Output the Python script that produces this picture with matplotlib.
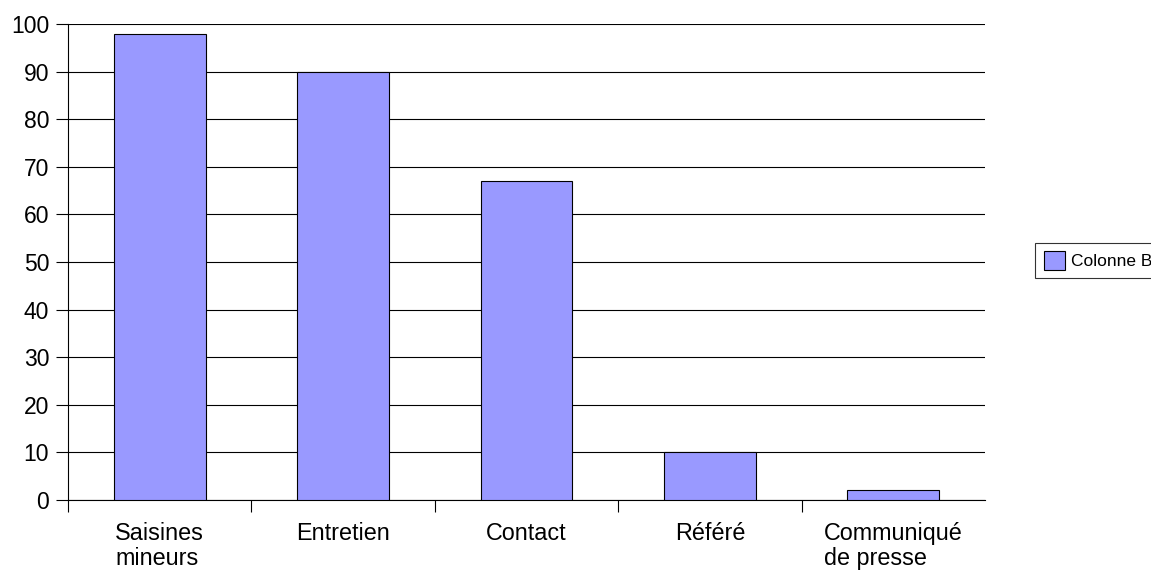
import matplotlib
matplotlib.use("Agg")
import matplotlib.pyplot as plt
import numpy as np

categories = ["Saisines\nmineurs", "Entretien", "Contact", "Référé", "Communiqué\nde presse"]
values = [98, 90, 67, 10, 2]
series_name = "Colonne B"
yticks = [0, 10, 20, 30, 40, 50, 60, 70, 80, 90, 100]

plt.rcParams['font.family'] = ['Liberation Sans', 'DejaVu Sans']

fig = plt.figure(figsize=(11.51, 5.72), dpi=100)
ax = fig.add_axes([68/1151, 1-500/572, (985-68)/1151, (500-24)/572])

x = np.arange(len(categories))
bars = ax.bar(x, values, width=0.5, color="#9999ff", edgecolor="#000000", linewidth=0.8,
              label=series_name, zorder=3)

ax.set_xlim(-0.5, len(categories)-0.5)
ax.set_ylim(0, 100)
ax.set_yticks(yticks)
ax.set_yticklabels([str(v) for v in yticks], fontsize=16.5)
ax.yaxis.grid(True, color="#000000", linewidth=0.8, zorder=0)
ax.tick_params(axis='y', direction='out', length=8.6, width=0.8, pad=5)

ax.set_xticks(x)
ax.set_xticklabels(categories, fontsize=16.8, linespacing=1.12, va='top',
                   multialignment='left')
ax.tick_params(axis='x', which='major', length=0, pad=16)
ax.set_xticks(np.arange(-0.5, len(categories)-0.5, 1.0), minor=True)
ax.tick_params(axis='x', which='minor', direction='out', length=8.6, width=0.8)

for s in ['top', 'right']:
    ax.spines[s].set_visible(False)
ax.spines['left'].set_linewidth(0.8)
ax.spines['bottom'].set_linewidth(0.8)

leg = fig.legend(handles=[bars], labels=[series_name], loc='center left',
                 bbox_to_anchor=(1035/1151, 1-260.5/572), fontsize=12.5,
                 frameon=True, fancybox=False, handlelength=1.2, handleheight=1.25,
                 borderpad=0.5, handletextpad=0.4, borderaxespad=0)
leg.get_frame().set_edgecolor("#000000")
leg.get_frame().set_linewidth(0.8)

fig.savefig("out.png", dpi=100)
